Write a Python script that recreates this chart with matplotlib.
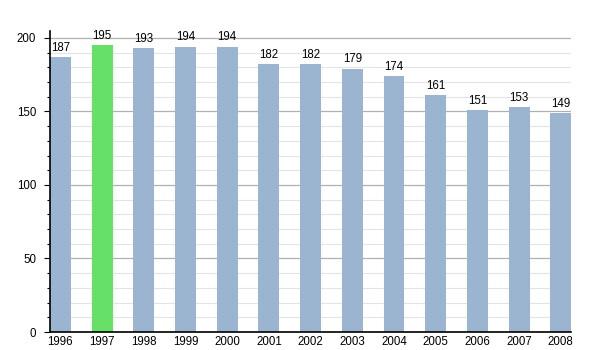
import matplotlib
matplotlib.use("Agg")
import matplotlib.pyplot as plt
from matplotlib.ticker import MultipleLocator

years = ["1996", "1997", "1998", "1999", "2000", "2001", "2002",
         "2003", "2004", "2005", "2006", "2007", "2008"]
population = [187, 195, 193, 194, 194, 182, 182, 179, 174, 161, 151, 153, 149]
highlight = "1997"

plt.rcParams["font.family"] = ["Liberation Sans", "DejaVu Sans"]

fig = plt.figure(figsize=(6, 3.5), dpi=100)
ax = fig.add_axes([0.0833, 0.0514, 0.8687, 0.8612])

colors = ["#66e066" if y == highlight else "#9bb4cf" for y in years]
x = range(len(years))
bars = ax.bar(x, population, width=0.5, color=colors, zorder=3)

for xi, v in zip(x, population):
    ax.text(xi, v + 2.3, str(v), ha="center", va="bottom", fontsize=8.3, zorder=4)

ax.set_xlim(-0.25, len(years) - 0.75)
ax.set_ylim(0, 205)
ax.set_xticks(list(x))
ax.set_xticklabels(years, fontsize=8.3)
ax.tick_params(axis="x", length=0, pad=3)

ax.yaxis.set_major_locator(MultipleLocator(50))
ax.yaxis.set_minor_locator(MultipleLocator(10))
ax.tick_params(axis="y", which="major", length=4, width=0.8, labelsize=8.3, pad=6)
ax.tick_params(axis="y", which="minor", length=2.5, width=0.8)

ax.grid(axis="y", which="major", color="#b0b0b0", linewidth=0.9, zorder=0)
ax.grid(axis="y", which="minor", color="#e4e4e4", linewidth=0.8, zorder=0)
ax.set_axisbelow(True)

for s in ("top", "right"):
    ax.spines[s].set_visible(False)
for s in ("left", "bottom"):
    ax.spines[s].set_color("black")
    ax.spines[s].set_linewidth(1.2)
    ax.spines[s].set_zorder(5)

fig.savefig("out.png", dpi=100)
